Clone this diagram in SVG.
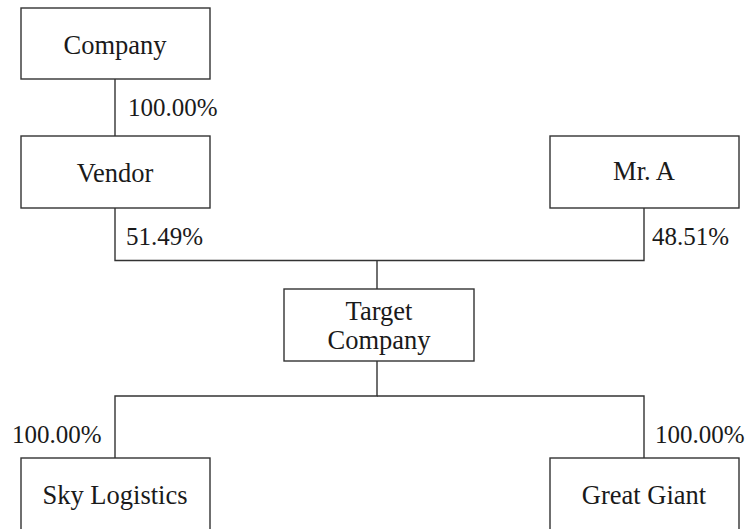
<svg xmlns="http://www.w3.org/2000/svg" width="750" height="529" viewBox="0 0 750 529">
<style>
.box{fill:#fff;stroke:#333;stroke-width:1.4}
.ln{fill:none;stroke:#333;stroke-width:1.4}
text{font-family:"Liberation Serif","Times New Roman",serif;font-size:25px;fill:#1a1a1a}
.c{text-anchor:middle;font-size:26.5px}
</style>
<rect width="750" height="529" fill="#fff"/>
<g id="connectors">
<path class="ln" d="M115,79 V136"/>
<path class="ln" d="M115,208 V260.5 H644 V208"/>
<path class="ln" d="M377,260.5 V289"/>
<path class="ln" d="M377,361 V396 H115 V458"/>
<path class="ln" d="M377,396 H644 V458"/>
<text x="128" y="116">100.00%</text>
<text x="126" y="245">51.49%</text>
<text x="652" y="245">48.51%</text>
<text x="12" y="443">100.00%</text>
<text x="655" y="443">100.00%</text>
</g>
<g id="company"><rect class="box" x="21" y="8" width="189" height="71"/><text class="c" x="115" y="54">Company</text></g>
<g id="vendor"><rect class="box" x="21" y="136" width="189" height="72"/><text class="c" x="115" y="182">Vendor</text></g>
<g id="mr-a"><rect class="box" x="550" y="136" width="189" height="72"/><text class="c" x="644" y="180">Mr. A</text></g>
<g id="target"><rect class="box" x="284" y="289" width="190" height="72"/><text class="c" x="379" y="320">Target</text><text class="c" x="379" y="349">Company</text></g>
<g id="sky-logistics"><rect class="box" x="21" y="458" width="189" height="80"/><text class="c" x="115" y="504">Sky Logistics</text></g>
<g id="great-giant"><rect class="box" x="550" y="458" width="189" height="80"/><text class="c" x="644" y="504">Great Giant</text></g>
</svg>
